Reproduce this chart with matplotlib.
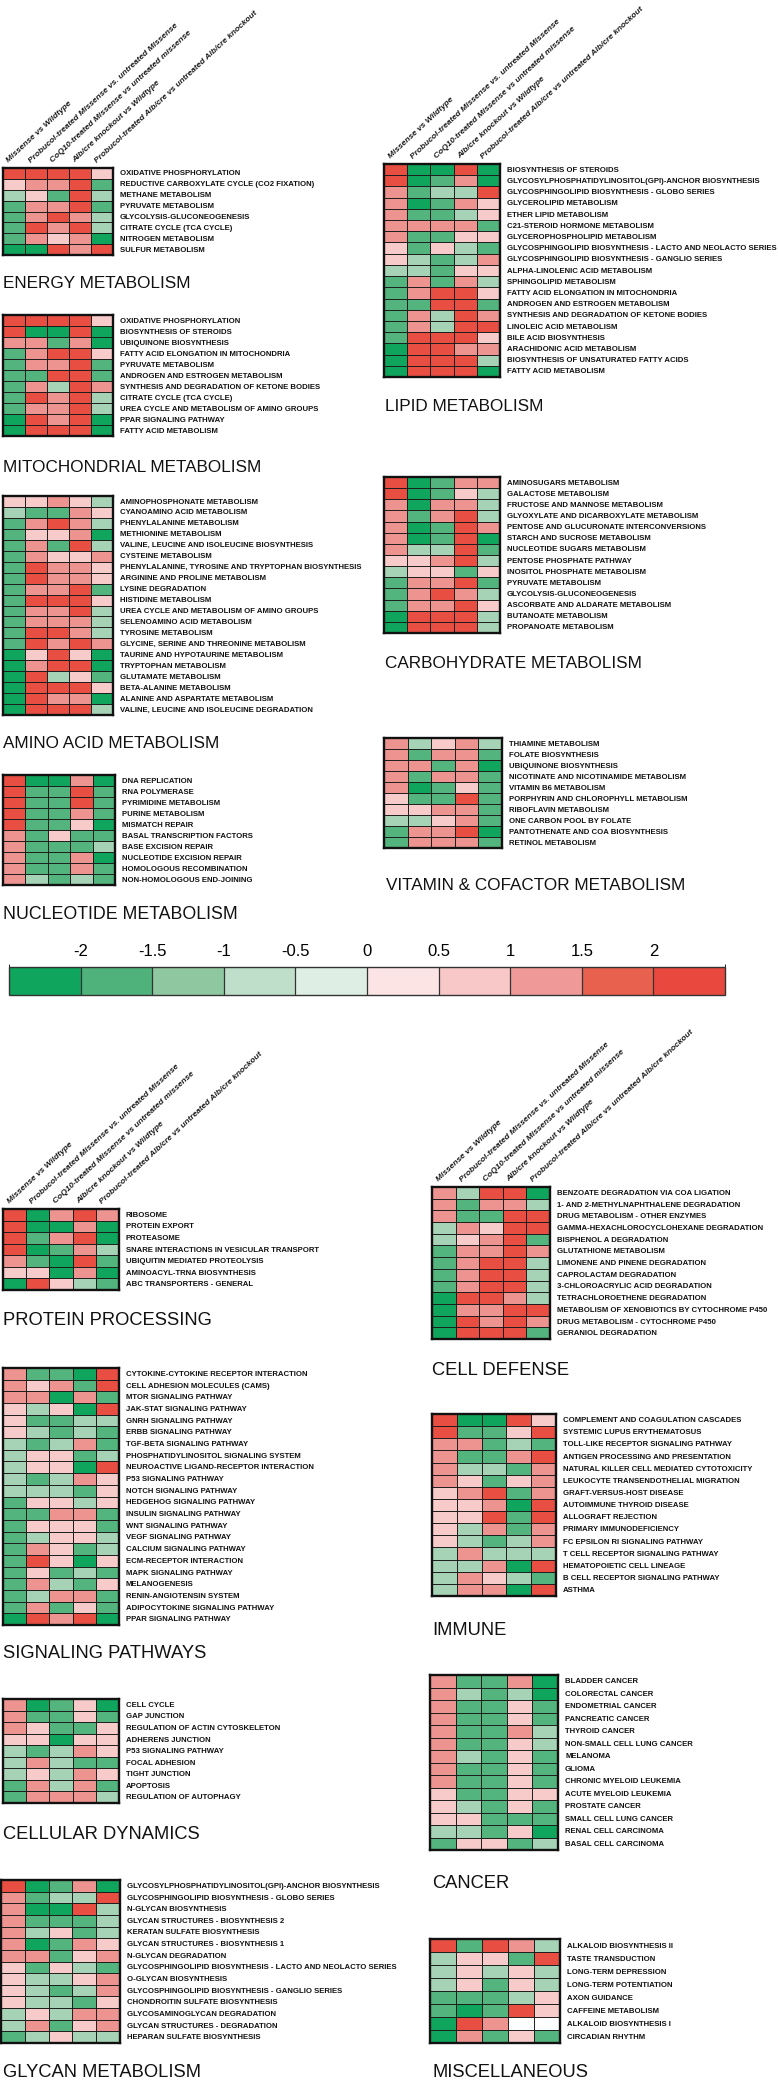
import numpy as np
import matplotlib
matplotlib.use("Agg")
import matplotlib.pyplot as plt
from matplotlib.colors import ListedColormap, BoundaryNorm, LinearSegmentedColormap, Normalize
from matplotlib.cm import ScalarMappable

plt.rcParams['font.family'] = ['Liberation Sans', 'DejaVu Sans']

W, H = 778, 2081

# ---------------- data ----------------
columns = ["Missense vs Wildtype",
           "Probucol-treated Missense vs. untreated Missense",
           "CoQ10-treated Missense vs untreated missense",
           "Alb/cre knockout vs Wildtype",
           "Probucol-treated Alb/cre vs untreated Alb/cre knockout"]

scale_ticks = [-2, -1.5, -1, -0.5, 0, 0.5, 1, 1.5, 2]
scale_labels = ["-2", "-1.5", "-1", "-0.5", "0", "0.5", "1", "1.5", "2"]
scale_colors = ['#10a55c', '#4fb27b', '#8fc8a0', '#bfdfcb', '#dfeee5',
                '#fce4e4', '#f8c8c8', '#ef9a98', '#e8614f', '#e8483d']

energy_rows = ["OXIDATIVE PHOSPHORYLATION", "REDUCTIVE CARBOXYLATE CYCLE (CO2 FIXATION)",
               "METHANE METABOLISM", "PYRUVATE METABOLISM", "GLYCOLYSIS-GLUCONEOGENESIS",
               "CITRATE CYCLE (TCA CYCLE)", "NITROGEN METABOLISM", "SULFUR METABOLISM"]
energy_vals = [[2.1, 2.1, 2.1, 2.1, 0.7],
               [0.7, 1.3, 1.3, 2.1, -1.7],
               [-1.0, 0.7, -1.7, 2.1, -1.0],
               [-1.7, 1.3, 1.3, 2.1, -1.7],
               [-1.7, 1.3, 2.1, 1.3, -1.0],
               [-1.7, 2.1, 1.3, 2.1, -1.0],
               [-1.7, 1.3, 0.7, 1.3, -2.3],
               [-2.3, -2.3, 2.1, 1.3, 2.1]]

mito_rows = ["OXIDATIVE PHOSPHORYLATION", "BIOSYNTHESIS OF STEROIDS", "UBIQUINONE BIOSYNTHESIS",
             "FATTY ACID ELONGATION IN MITOCHONDRIA", "PYRUVATE METABOLISM",
             "ANDROGEN AND ESTROGEN METABOLISM", "SYNTHESIS AND DEGRADATION OF KETONE BODIES",
             "CITRATE CYCLE (TCA CYCLE)", "UREA CYCLE AND METABOLISM OF AMINO GROUPS",
             "PPAR SIGNALING PATHWAY", "FATTY ACID METABOLISM"]
mito_vals = [[2.1, 2.1, 2.1, 2.1, 0.7],
             [2.1, -2.3, -2.3, 2.1, -2.3],
             [1.3, 1.3, -1.7, 1.3, -2.3],
             [-1.7, 1.3, 2.1, 2.1, 0.7],
             [-1.7, 1.3, 1.3, 2.1, -1.7],
             [-1.7, -1.7, 2.1, 2.1, -1.7],
             [-1.7, 1.3, -1.0, 2.1, 1.3],
             [-1.7, 2.1, 1.3, 2.1, -1.0],
             [-1.7, 1.3, 1.3, 2.1, -1.0],
             [-2.3, 2.1, 1.3, 2.1, -2.3],
             [-2.3, 2.1, 2.1, 2.1, -2.3]]

amino_rows = ["AMINOPHOSPHONATE METABOLISM", "CYANOAMINO ACID METABOLISM", "PHENYLALANINE METABOLISM",
              "METHIONINE METABOLISM", "VALINE, LEUCINE AND ISOLEUCINE BIOSYNTHESIS",
              "CYSTEINE METABOLISM", "PHENYLALANINE, TYROSINE AND TRYPTOPHAN BIOSYNTHESIS",
              "ARGININE AND PROLINE METABOLISM", "LYSINE DEGRADATION", "HISTIDINE METABOLISM",
              "UREA CYCLE AND METABOLISM OF AMINO GROUPS", "SELENOAMINO ACID METABOLISM",
              "TYROSINE METABOLISM", "GLYCINE, SERINE AND THREONINE METABOLISM",
              "TAURINE AND HYPOTAURINE METABOLISM", "TRYPTOPHAN METABOLISM", "GLUTAMATE METABOLISM",
              "BETA-ALANINE METABOLISM", "ALANINE AND ASPARTATE METABOLISM",
              "VALINE, LEUCINE AND ISOLEUCINE DEGRADATION"]
amino_vals = [[0.7, 0.7, 1.3, 0.7, -1.0],
              [-1.0, -1.7, -1.7, 1.3, 0.7],
              [-1.7, 1.3, 2.1, 1.3, -1.0],
              [-1.7, 0.7, 0.7, 1.3, -2.3],
              [-1.7, 1.3, -1.7, 2.1, -1.0],
              [-1.7, 1.3, 0.7, 0.7, 1.3],
              [-1.7, 2.1, 1.3, 1.3, 0.7],
              [-1.7, 2.1, 1.3, 1.3, 0.7],
              [-1.7, 1.3, 1.3, 2.1, -1.7],
              [-1.7, 2.1, 2.1, 2.1, 0.7],
              [-1.7, 1.3, 1.3, 2.1, -1.0],
              [-1.7, 1.3, 1.3, 1.3, -1.0],
              [-1.7, 2.1, 2.1, 1.3, -1.0],
              [-1.7, 2.1, 1.3, 2.1, 1.3],
              [-2.3, 0.7, 2.1, 0.7, -2.3],
              [-2.3, 1.3, 2.1, 2.1, -2.3],
              [-2.3, 2.1, -1.0, 0.7, -1.7],
              [-2.3, 2.1, 2.1, 2.1, 0.7],
              [-2.3, 2.1, 1.3, 1.3, -2.3],
              [-2.3, 2.1, 2.1, 2.1, -1.0]]

nucleo_rows = ["DNA REPLICATION", "RNA POLYMERASE", "PYRIMIDINE METABOLISM", "PURINE METABOLISM",
               "MISMATCH REPAIR", "BASAL TRANSCRIPTION FACTORS", "BASE EXCISION REPAIR",
               "NUCLEOTIDE EXCISION REPAIR", "HOMOLOGOUS RECOMBINATION", "NON-HOMOLOGOUS END-JOINING"]
nucleo_vals = [[2.1, -2.3, -2.3, 1.3, -2.3],
               [2.1, -1.7, -1.7, 2.1, -1.7],
               [2.1, -1.7, -1.7, 2.1, -1.7],
               [2.1, -1.7, -1.7, 1.3, -1.7],
               [2.1, -1.7, -1.7, 0.7, -2.3],
               [1.3, -1.7, 0.7, -1.7, -1.7],
               [1.3, -1.7, -1.7, -1.7, -1.0],
               [1.3, -1.7, -1.7, 1.3, -2.3],
               [1.3, -1.7, -1.7, 1.3, -1.7],
               [1.3, -1.0, -1.7, -1.0, -1.7]]

lipid_rows = ["BIOSYNTHESIS OF STEROIDS", "GLYCOSYLPHOSPHATIDYLINOSITOL(GPI)-ANCHOR BIOSYNTHESIS",
              "GLYCOSPHINGOLIPID BIOSYNTHESIS - GLOBO SERIES", "GLYCEROLIPID METABOLISM",
              "ETHER LIPID METABOLISM", "C21-STEROID HORMONE METABOLISM",
              "GLYCEROPHOSPHOLIPID METABOLISM",
              "GLYCOSPHINGOLIPID BIOSYNTHESIS - LACTO AND NEOLACTO SERIES",
              "GLYCOSPHINGOLIPID BIOSYNTHESIS - GANGLIO SERIES", "ALPHA-LINOLENIC ACID METABOLISM",
              "SPHINGOLIPID METABOLISM", "FATTY ACID ELONGATION IN MITOCHONDRIA",
              "ANDROGEN AND ESTROGEN METABOLISM", "SYNTHESIS AND DEGRADATION OF KETONE BODIES",
              "LINOLEIC ACID METABOLISM", "BILE ACID BIOSYNTHESIS", "ARACHIDONIC ACID METABOLISM",
              "BIOSYNTHESIS OF UNSATURATED FATTY ACIDS", "FATTY ACID METABOLISM"]
lipid_vals = [[2.1, -2.3, -2.3, 2.1, -2.3],
              [2.1, -2.3, -1.7, 1.3, -2.3],
              [1.3, -1.7, -1.0, -1.0, 2.1],
              [1.3, -2.3, -1.7, 1.3, 0.7],
              [1.3, -1.7, -1.7, -1.0, 0.7],
              [1.3, 1.3, 1.3, 1.3, -1.7],
              [1.3, -1.7, -1.7, 0.7, 0.7],
              [0.7, -1.7, 0.7, -1.0, -1.7],
              [0.7, -1.0, -1.7, -1.0, 1.3],
              [-1.0, -1.0, -1.7, 0.7, 0.7],
              [-1.7, 1.3, -1.7, 1.3, -1.0],
              [-1.7, 1.3, 2.1, 2.1, 0.7],
              [-1.7, -1.7, 2.1, 2.1, -1.7],
              [-1.7, 1.3, -1.0, 2.1, 1.3],
              [-1.7, 1.3, -1.0, 2.1, 2.1],
              [-1.7, 2.1, 2.1, 2.1, 0.7],
              [-2.3, 2.1, 2.1, 1.3, 1.3],
              [-2.3, 2.1, 2.1, 2.1, -1.0],
              [-2.3, 2.1, 2.1, 2.1, -2.3]]

carbo_rows = ["AMINOSUGARS METABOLISM", "GALACTOSE METABOLISM", "FRUCTOSE AND MANNOSE METABOLISM",
              "GLYOXYLATE AND DICARBOXYLATE METABOLISM", "PENTOSE AND GLUCURONATE INTERCONVERSIONS",
              "STARCH AND SUCROSE METABOLISM", "NUCLEOTIDE SUGARS METABOLISM",
              "PENTOSE PHOSPHATE PATHWAY", "INOSITOL PHOSPHATE METABOLISM", "PYRUVATE METABOLISM",
              "GLYCOLYSIS-GLUCONEOGENESIS", "ASCORBATE AND ALDARATE METABOLISM",
              "BUTANOATE METABOLISM", "PROPANOATE METABOLISM"]
carbo_vals = [[2.1, -2.3, -1.7, 1.3, 1.3],
              [2.1, -2.3, -1.7, 0.7, -1.0],
              [1.3, -2.3, 1.3, 1.3, -1.0],
              [1.3, -1.7, 1.3, 2.1, -1.0],
              [1.3, -2.3, -1.7, 2.1, 1.3],
              [1.3, -2.3, -1.7, 2.1, -2.3],
              [1.3, -1.0, -1.0, 2.1, -1.7],
              [0.7, 0.7, 1.3, 2.1, -1.0],
              [-1.0, 0.7, 0.7, -1.7, 0.7],
              [-1.7, 1.3, 1.3, 2.1, -1.7],
              [-1.7, 1.3, 2.1, 1.3, -1.0],
              [-1.7, 1.3, 1.3, 2.1, 0.7],
              [-2.3, 2.1, 2.1, 2.1, -1.0],
              [-2.3, 2.1, 2.1, 2.1, -1.0]]

vitamin_rows = ["THIAMINE METABOLISM", "FOLATE BIOSYNTHESIS", "UBIQUINONE BIOSYNTHESIS",
                "NICOTINATE AND NICOTINAMIDE METABOLISM", "VITAMIN B6 METABOLISM",
                "PORPHYRIN AND CHLOROPHYLL METABOLISM", "RIBOFLAVIN METABOLISM",
                "ONE CARBON POOL BY FOLATE", "PANTOTHENATE AND COA BIOSYNTHESIS", "RETINOL METABOLISM"]
vitamin_vals = [[1.3, -1.0, 0.7, 1.3, -1.0],
                [1.3, -1.7, 1.3, 1.3, -1.7],
                [1.3, 1.3, -1.7, 1.3, -2.3],
                [1.3, -1.7, 1.3, 1.3, -1.7],
                [1.3, -2.3, -1.7, 0.7, -1.7],
                [0.7, -1.7, -1.7, 2.1, -1.7],
                [0.7, 0.7, 1.3, 1.3, -1.7],
                [-1.0, -1.0, 0.7, 1.3, -1.7],
                [-1.7, 1.3, 1.3, 2.1, -2.3],
                [-1.7, 1.3, 1.3, 1.3, -1.7]]

protein_rows = ["RIBOSOME", "PROTEIN EXPORT", "PROTEASOME", "SNARE INTERACTIONS IN VESICULAR TRANSPORT",
                "UBIQUITIN MEDIATED PROTEOLYSIS", "AMINOACYL-TRNA BIOSYNTHESIS", "ABC TRANSPORTERS - GENERAL"]
protein_vals = [[2.1, -2.3, 1.3, 2.1, 1.3],
                [2.1, -2.3, -2.3, 1.3, -2.3],
                [2.1, -1.7, 1.3, 2.1, -2.3],
                [2.1, -2.3, -1.7, 1.3, -1.0],
                [1.3, -1.7, -2.3, 2.1, -1.7],
                [0.7, 0.7, -2.3, 1.3, -2.3],
                [-2.3, 2.1, 0.7, -1.0, -1.7]]

defense_rows = ["BENZOATE DEGRADATION VIA COA LIGATION", "1- AND 2-METHYLNAPHTHALENE DEGRADATION",
                "DRUG METABOLISM - OTHER ENZYMES", "GAMMA-HEXACHLOROCYCLOHEXANE DEGRADATION",
                "BISPHENOL A DEGRADATION", "GLUTATHIONE METABOLISM", "LIMONENE AND PINENE DEGRADATION",
                "CAPROLACTAM DEGRADATION", "3-CHLOROACRYLIC ACID DEGRADATION",
                "TETRACHLOROETHENE DEGRADATION", "METABOLISM OF XENOBIOTICS BY CYTOCHROME P450",
                "DRUG METABOLISM - CYTOCHROME P450", "GERANIOL DEGRADATION"]
defense_vals = [[1.3, -1.0, 2.1, 2.1, -2.3],
                [1.3, -1.7, 1.3, 1.3, -1.0],
                [1.3, -1.7, -1.7, 2.1, 2.1],
                [-1.0, 1.3, 0.7, 2.1, 2.1],
                [-1.0, 0.7, 1.3, 2.1, -1.7],
                [-1.7, 1.3, 1.3, 2.1, 1.3],
                [-1.7, 1.3, 2.1, 2.1, -1.0],
                [-1.7, 1.3, 2.1, 2.1, -1.0],
                [-1.7, 1.3, 2.1, 2.1, -1.0],
                [-2.3, 2.1, 2.1, 1.3, -1.0],
                [-2.3, 1.3, 1.3, 2.1, 2.1],
                [-2.3, 2.1, 1.3, 2.1, 1.3],
                [-2.3, 2.1, 2.1, 2.1, -1.7]]

signal_rows = ["CYTOKINE-CYTOKINE RECEPTOR INTERACTION", "CELL ADHESION MOLECULES (CAMS)",
               "MTOR SIGNALING PATHWAY", "JAK-STAT SIGNALING PATHWAY", "GNRH SIGNALING PATHWAY",
               "ERBB SIGNALING PATHWAY", "TGF-BETA SIGNALING PATHWAY",
               "PHOSPHATIDYLINOSITOL SIGNALING SYSTEM", "NEUROACTIVE LIGAND-RECEPTOR INTERACTION",
               "P53 SIGNALING PATHWAY", "NOTCH SIGNALING PATHWAY", "HEDGEHOG SIGNALING PATHWAY",
               "INSULIN SIGNALING PATHWAY", "WNT SIGNALING PATHWAY", "VEGF SIGNALING PATHWAY",
               "CALCIUM SIGNALING PATHWAY", "ECM-RECEPTOR INTERACTION", "MAPK SIGNALING PATHWAY",
               "MELANOGENESIS", "RENIN-ANGIOTENSIN SYSTEM", "ADIPOCYTOKINE SIGNALING PATHWAY",
               "PPAR SIGNALING PATHWAY"]
signal_vals = [[1.3, -1.7, -1.7, -2.3, 2.1],
               [1.3, 0.7, 1.3, -1.7, 2.1],
               [1.3, 1.3, -2.3, 1.3, -1.7],
               [0.7, -1.0, 0.7, -2.3, 2.1],
               [0.7, -1.7, -1.7, -1.0, -1.0],
               [0.7, -1.0, -1.7, -1.0, -1.7],
               [-1.0, -1.7, -1.0, 1.3, -1.7],
               [-1.0, 0.7, 0.7, -1.7, -1.0],
               [-1.0, 0.7, 0.7, -2.3, 2.1],
               [-1.0, -1.7, -1.0, 1.3, 0.7],
               [-1.0, -1.0, -1.0, -1.7, 0.7],
               [-1.7, 0.7, 0.7, -1.0, 0.7],
               [-1.7, -1.7, 1.3, 1.3, -1.7],
               [-1.7, 0.7, 0.7, 0.7, -1.7],
               [-1.7, -1.0, 0.7, 0.7, -1.0],
               [-1.7, 1.3, 0.7, -1.7, -1.0],
               [-1.7, 2.1, 0.7, -2.3, 0.7],
               [-1.7, 0.7, -1.7, -1.0, -1.7],
               [-1.7, 1.3, -1.0, -1.7, 0.7],
               [-1.7, -1.0, 1.3, 1.3, -1.7],
               [-1.7, 1.3, -1.7, 0.7, -1.7],
               [-2.3, 2.1, 1.3, 2.1, -2.3]]

immune_rows = ["COMPLEMENT AND COAGULATION CASCADES", "SYSTEMIC LUPUS ERYTHEMATOSUS",
               "TOLL-LIKE RECEPTOR SIGNALING PATHWAY", "ANTIGEN PROCESSING AND PRESENTATION",
               "NATURAL KILLER CELL MEDIATED CYTOTOXICITY", "LEUKOCYTE TRANSENDOTHELIAL MIGRATION",
               "GRAFT-VERSUS-HOST DISEASE", "AUTOIMMUNE THYROID DISEASE", "ALLOGRAFT REJECTION",
               "PRIMARY IMMUNODEFICIENCY", "FC EPSILON RI SIGNALING PATHWAY",
               "T CELL RECEPTOR SIGNALING PATHWAY", "HEMATOPOIETIC CELL LINEAGE",
               "B CELL RECEPTOR SIGNALING PATHWAY", "ASTHMA"]
immune_vals = [[2.1, -2.3, -2.3, 2.1, 0.7],
               [2.1, -1.7, -1.7, 0.7, 2.1],
               [1.3, 1.3, -1.7, -1.0, -1.7],
               [1.3, -1.7, -1.7, 1.3, 2.1],
               [1.3, -1.0, -1.0, -1.7, 1.3],
               [1.3, 0.7, -1.7, 0.7, 1.3],
               [0.7, 1.3, 2.1, -1.7, 1.3],
               [0.7, 0.7, 1.3, -2.3, 2.1],
               [0.7, 0.7, 2.1, -1.7, 2.1],
               [0.7, -1.0, 1.3, -1.7, 1.3],
               [0.7, -1.0, -1.7, -1.0, 1.3],
               [-1.0, 1.3, -1.0, -1.0, -1.0],
               [-1.0, -1.0, 1.3, -2.3, 2.1],
               [-1.0, 1.3, 0.7, -1.0, -1.7],
               [-1.0, 1.3, 1.3, -2.3, 2.1]]

cellular_rows = ["CELL CYCLE", "GAP JUNCTION", "REGULATION OF ACTIN CYTOSKELETON", "ADHERENS JUNCTION",
                 "P53 SIGNALING PATHWAY", "FOCAL ADHESION", "TIGHT JUNCTION", "APOPTOSIS",
                 "REGULATION OF AUTOPHAGY"]
cellular_vals = [[1.3, -2.3, -1.7, 0.7, -2.3],
                 [1.3, -1.7, -1.7, 0.7, -1.7],
                 [1.3, 0.7, -1.7, -1.7, 0.7],
                 [0.7, 0.7, -2.3, 0.7, 0.7],
                 [-1.0, -1.7, -1.0, 1.3, 0.7],
                 [-1.0, 1.3, -1.0, -1.7, -1.7],
                 [-1.0, 0.7, -1.0, 1.3, 0.7],
                 [-1.7, 1.3, -1.0, 1.3, -1.7],
                 [-1.7, 1.3, 1.3, 1.3, -1.0]]

cancer_rows = ["BLADDER CANCER", "COLORECTAL CANCER", "ENDOMETRIAL CANCER", "PANCREATIC CANCER",
               "THYROID CANCER", "NON-SMALL CELL LUNG CANCER", "MELANOMA", "GLIOMA",
               "CHRONIC MYELOID LEUKEMIA", "ACUTE MYELOID LEUKEMIA", "PROSTATE CANCER",
               "SMALL CELL LUNG CANCER", "RENAL CELL CARCINOMA", "BASAL CELL CARCINOMA"]
cancer_vals = [[1.3, -1.7, -1.7, 1.3, -2.3],
               [1.3, -1.0, -1.7, -1.0, -2.3],
               [1.3, -1.7, -1.7, 0.7, -1.7],
               [1.3, -1.7, -1.7, 0.7, -1.7],
               [1.3, -1.7, -1.7, 1.3, -1.0],
               [1.3, -1.7, -1.7, 0.7, -1.0],
               [1.3, -1.0, -1.7, 0.7, -1.7],
               [1.3, -1.7, -1.7, 0.7, -1.7],
               [1.3, -1.7, -1.7, 0.7, -1.7],
               [0.7, -1.7, -1.7, 0.7, 0.7],
               [0.7, -1.0, -1.7, 0.7, -1.7],
               [0.7, 0.7, -1.7, -1.7, -1.7],
               [-1.0, -1.0, -1.7, 0.7, -2.3],
               [-1.7, 0.7, 0.7, -1.7, -1.0]]

glycan_rows = ["GLYCOSYLPHOSPHATIDYLINOSITOL(GPI)-ANCHOR BIOSYNTHESIS",
               "GLYCOSPHINGOLIPID BIOSYNTHESIS - GLOBO SERIES", "N-GLYCAN BIOSYNTHESIS",
               "GLYCAN STRUCTURES - BIOSYNTHESIS 2", "KERATAN SULFATE BIOSYNTHESIS",
               "GLYCAN STRUCTURES - BIOSYNTHESIS 1", "N-GLYCAN DEGRADATION",
               "GLYCOSPHINGOLIPID BIOSYNTHESIS - LACTO AND NEOLACTO SERIES", "O-GLYCAN BIOSYNTHESIS",
               "GLYCOSPHINGOLIPID BIOSYNTHESIS - GANGLIO SERIES", "CHONDROITIN SULFATE BIOSYNTHESIS",
               "GLYCOSAMINOGLYCAN DEGRADATION", "GLYCAN STRUCTURES - DEGRADATION",
               "HEPARAN SULFATE BIOSYNTHESIS"]
glycan_vals = [[2.1, -2.3, -1.7, 1.3, -2.3],
               [1.3, -1.7, -1.0, -1.0, 2.1],
               [1.3, -2.3, -2.3, 2.1, -1.0],
               [1.3, -1.7, -1.7, -1.7, -1.0],
               [1.3, -1.0, 0.7, -1.7, -1.0],
               [1.3, -2.3, -1.7, 1.3, 0.7],
               [1.3, 1.3, -1.7, 0.7, 1.3],
               [0.7, -1.7, 0.7, -1.0, -1.7],
               [0.7, -1.0, -1.0, 0.7, 1.3],
               [0.7, -1.0, -1.7, -1.0, 1.3],
               [0.7, -1.0, -1.0, -1.7, 0.7],
               [-1.0, 0.7, -1.0, 1.3, 1.3],
               [-1.0, 1.3, -1.7, 0.7, 1.3],
               [-1.7, -1.0, 0.7, -1.0, -1.0]]

misc_rows = ["ALKALOID BIOSYNTHESIS II", "TASTE TRANSDUCTION", "LONG-TERM DEPRESSION",
             "LONG-TERM POTENTIATION", "AXON GUIDANCE", "CAFFEINE METABOLISM",
             "ALKALOID BIOSYNTHESIS I", "CIRCADIAN RHYTHM"]
misc_vals = [[2.1, -1.7, 2.1, 1.3, -1.0],
             [-1.0, 0.7, 0.7, -1.7, 2.1],
             [-1.0, 0.7, -1.0, 0.7, -1.0],
             [-1.0, 0.7, -1.7, 0.7, -1.0],
             [-1.7, -1.7, -1.7, -1.0, 0.7],
             [-1.7, -2.3, -1.7, 2.1, 0.7],
             [-2.3, 2.1, 1.3, np.nan, np.nan],
             [-2.3, 1.3, -1.7, 0.7, -1.7]]

# ---------------- drawing ----------------
fig = plt.figure(figsize=(W / 100, H / 100), dpi=100)
fig.patch.set_facecolor('white')

anchor_pos = [0.0, 0.05, 0.15, 0.25, 0.35, 0.45, 0.55, 0.65, 0.75, 0.85, 0.95, 1.0]
anchor_col = [scale_colors[0]] + scale_colors + [scale_colors[-1]]
heat_cmap = LinearSegmentedColormap.from_list('gr', list(zip(anchor_pos, anchor_col)))
heat_norm = Normalize(-2.5, 2.5)


def fx(x):
    return x / W


def fy(y):
    return 1 - y / H


def panel(x0, y0, x1, y1, rows, vals, title, title_xy, header=False,
          label_fs=5.6, title_fs=12.3):
    ax = fig.add_axes([fx(x0), fy(y1), (x1 - x0) / W, (y1 - y0) / H])
    arr = np.ma.masked_invalid(np.array(vals, dtype=float))
    nr, nc = arr.shape
    ax.pcolormesh(np.arange(nc + 1), np.arange(nr + 1), arr, cmap=heat_cmap, norm=heat_norm)
    for i in range(1, nr):
        ax.axhline(i, color='#1c1c1c', lw=0.7)
    for j in range(1, nc):
        ax.axvline(j, color='#1c1c1c', lw=0.7)
    ax.set_xlim(0, nc)
    ax.set_ylim(nr, 0)
    ax.set_xticks([])
    ax.set_yticks([])
    for s in ax.spines.values():
        s.set_linewidth(1.7)
        s.set_color('#111111')
    rh = (y1 - y0) / nr
    for i, r in enumerate(rows):
        fig.text(fx(x1 + 7), fy(y0 + (i + 0.55) * rh), r, fontsize=label_fs,
                 fontweight='bold', va='center', ha='left', color='#111111')
    fig.text(fx(title_xy[0]), fy(title_xy[1]), title, fontsize=title_fs, va='baseline',
             ha='left', color='#111111')
    if header:
        cw = (x1 - x0) / nc
        for j, c in enumerate(columns):
            fig.text(fx(x0 + (j + 0.5) * cw - 4), fy(y0 - 4), c, fontsize=6.0,
                     style='italic', fontweight='bold', rotation=43, rotation_mode='anchor',
                     ha='left', va='bottom', color='#1a1a1a')


panel(3, 168, 113, 255, energy_rows, energy_vals, "ENERGY METABOLISM", (3, 288), header=True)
panel(3, 315, 113, 436, mito_rows, mito_vals, "MITOCHONDRIAL METABOLISM", (3, 472))
panel(3, 496, 113, 715, amino_rows, amino_vals, "AMINO ACID METABOLISM", (3, 748))
panel(3, 775, 115, 885, nucleo_rows, nucleo_vals, "NUCLEOTIDE METABOLISM", (3, 919), title_fs=12.8)

panel(384, 164, 500, 377, lipid_rows, lipid_vals, "LIPID METABOLISM", (385, 411), header=True)
panel(384, 477, 500, 633, carbo_rows, carbo_vals, "CARBOHYDRATE METABOLISM", (385, 668))
panel(384, 738, 502, 848, vitamin_rows, vitamin_vals, "VITAMIN & COFACTOR METABOLISM", (386, 890))

panel(3, 1209, 119, 1290, protein_rows, protein_vals, "PROTEIN PROCESSING", (3, 1325),
      header=True, title_fs=13.2)
panel(432, 1187, 550, 1339, defense_rows, defense_vals, "CELL DEFENSE", (432, 1375),
      header=True, title_fs=13.2)
panel(3, 1368, 119, 1625, signal_rows, signal_vals, "SIGNALING PATHWAYS", (3, 1658), title_fs=13.2)
panel(432, 1414, 556, 1596, immune_rows, immune_vals, "IMMUNE", (432, 1635), title_fs=13.2)
panel(3, 1699, 119, 1803, cellular_rows, cellular_vals, "CELLULAR DYNAMICS", (3, 1839), title_fs=13.2)
panel(430, 1675, 558, 1850, cancer_rows, cancer_vals, "CANCER", (432, 1888), title_fs=13.2)
panel(1, 1880, 120, 2043, glycan_rows, glycan_vals, "GLYCAN METABOLISM", (3, 2077), title_fs=13.2)
panel(430, 1939, 560, 2043, misc_rows, misc_vals, "MISCELLANEOUS", (432, 2077), title_fs=13.2)

# colour scale
cax = fig.add_axes([fx(9), fy(995), (725 - 9) / W, (995 - 967) / H])
bounds = [-2.5] + scale_ticks + [2.5]
sm = ScalarMappable(norm=BoundaryNorm(bounds, len(scale_colors)), cmap=ListedColormap(scale_colors))
cb = fig.colorbar(sm, cax=cax, orientation='horizontal', drawedges=True, ticks=scale_ticks)
cb.outline.set_linewidth(1.0)
cb.outline.set_edgecolor('#333333')
cb.dividers.set_color('#333333')
cb.dividers.set_linewidth(0.9)
cax.xaxis.set_ticks_position('top')
cax.tick_params(axis='x', length=0, pad=6, labelsize=12)
cax.set_xticklabels(scale_labels)

fig.savefig('out.png', dpi=100, facecolor='white')
